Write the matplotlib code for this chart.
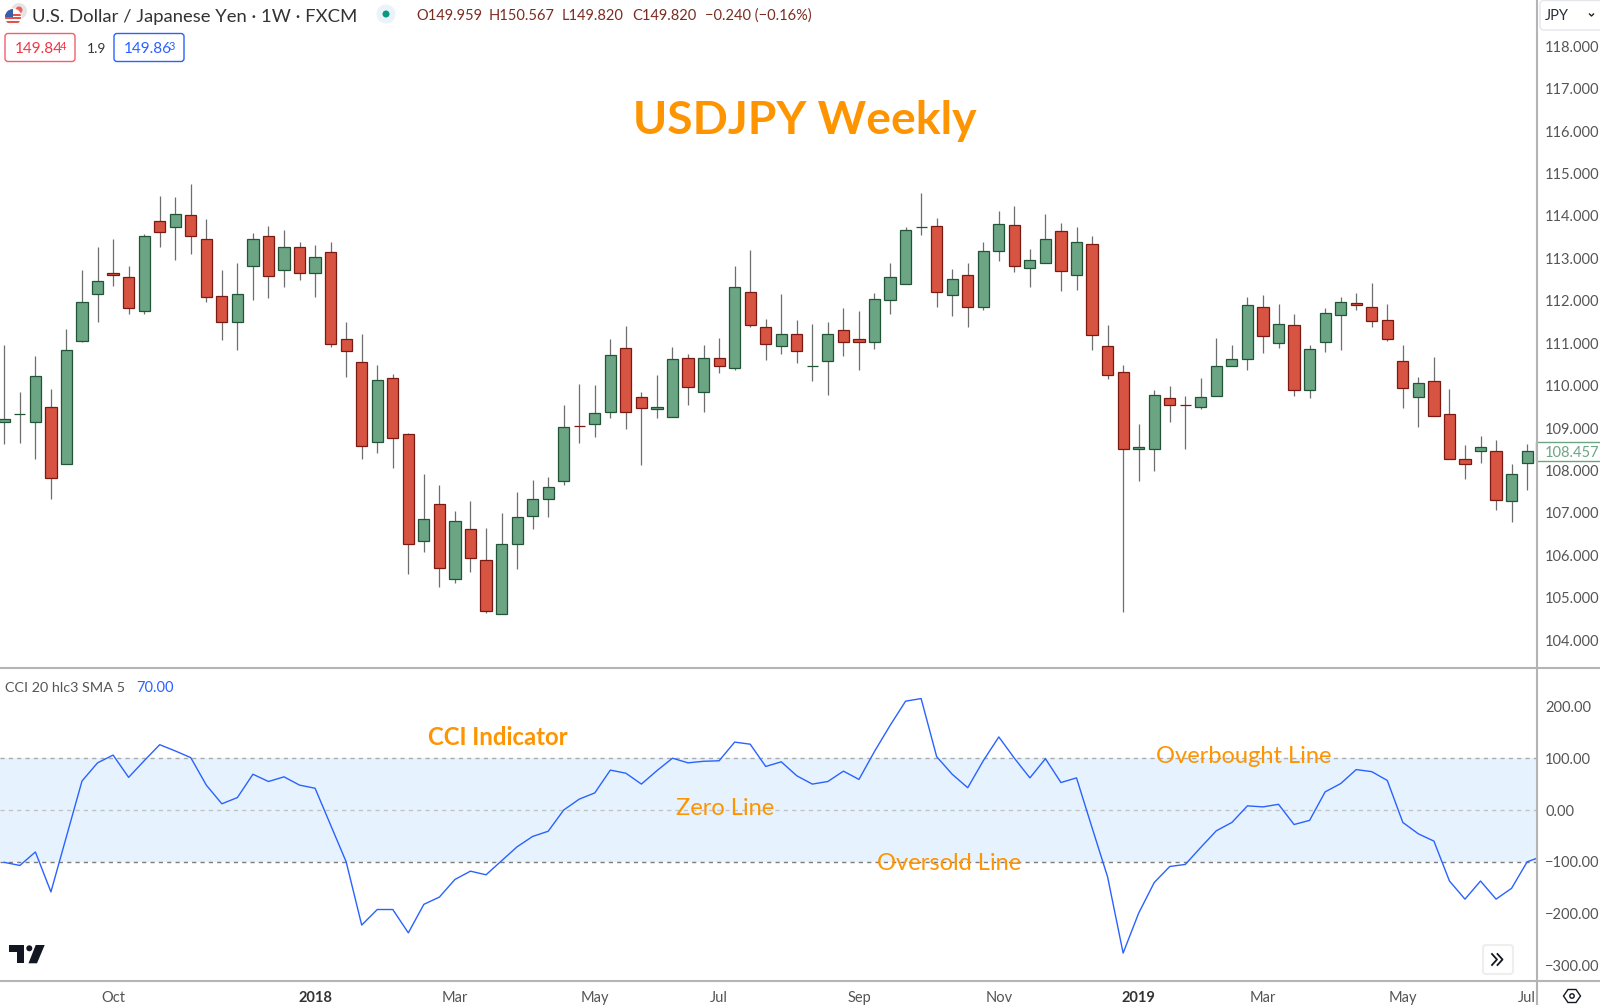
import matplotlib
matplotlib.use('Agg')
import matplotlib.pyplot as plt
from matplotlib.patches import Circle, FancyBboxPatch, Polygon, Rectangle

# weekly candles
opens = [109.14, 109.33, 109.14, 109.49, 108.16, 111.06, 112.15, 112.65, 112.56, 111.75,
         113.87, 113.73, 114.02, 113.45, 112.11, 111.49, 112.81, 113.52, 112.72, 113.27,
         112.65, 113.14, 111.09, 110.55, 108.67, 110.19, 108.86, 106.33, 107.20, 105.44,
         106.62, 105.90, 104.63, 106.26, 106.92, 107.33, 107.76, 109.05, 109.09, 109.39,
         110.88, 109.74, 109.45, 109.27, 110.66, 109.84, 110.66, 110.41, 112.20, 111.38,
         110.93, 111.22, 110.46, 110.59, 111.31, 111.09, 111.04, 112.02, 112.40, 113.73,
         113.76, 112.13, 112.60, 111.86, 113.17, 113.78, 112.78, 112.89, 113.65, 112.60,
         113.34, 110.93, 110.33, 108.50, 108.50, 109.70, 109.55, 109.50, 109.75, 110.46,
         110.64, 111.85, 111.00, 111.44, 109.90, 111.03, 111.66, 111.95, 111.86, 111.55,
         110.59, 109.74, 110.10, 109.34, 108.27, 108.47, 108.47, 107.28, 108.17]
closes = [109.21, 109.34, 110.23, 107.82, 110.83, 111.97, 112.47, 112.60, 111.83, 113.52,
          113.63, 114.05, 113.52, 112.09, 111.51, 112.15, 113.45, 112.58, 113.27, 112.65,
          113.03, 110.99, 110.81, 108.58, 110.14, 108.76, 106.26, 106.86, 105.70, 106.81,
          105.95, 104.70, 106.26, 106.90, 107.32, 107.62, 109.03, 109.04, 109.36, 110.73,
          109.37, 109.48, 109.50, 110.63, 109.96, 110.66, 110.46, 112.33, 111.42, 110.98,
          111.22, 110.81, 110.47, 111.22, 111.04, 111.04, 112.04, 112.56, 113.68, 113.74,
          112.20, 112.51, 111.86, 113.18, 113.80, 112.83, 112.96, 113.45, 112.70, 113.38,
          111.20, 110.26, 108.50, 108.56, 109.77, 109.54, 109.54, 109.73, 110.46, 110.64,
          111.91, 111.16, 111.45, 109.90, 110.86, 111.71, 111.97, 111.91, 111.53, 111.09,
          109.95, 110.06, 109.28, 108.27, 108.16, 108.56, 107.31, 107.91, 108.45]
highs = [110.96, 109.86, 110.69, 109.92, 111.34, 112.73, 113.26, 113.46, 112.83, 113.58,
         114.47, 114.44, 114.75, 113.93, 112.73, 112.88, 113.59, 113.76, 113.66, 113.39,
         113.31, 113.39, 111.49, 111.22, 110.48, 110.28, 108.88, 107.92, 107.67, 107.05,
         107.29, 106.64, 106.99, 107.50, 107.78, 107.85, 109.55, 110.03, 110.02, 111.09,
         111.41, 109.84, 110.26, 110.91, 110.75, 110.95, 111.13, 112.81, 113.19, 111.56,
         112.16, 111.54, 111.45, 111.49, 111.83, 111.76, 112.18, 112.88, 113.73, 114.55,
         113.95, 112.74, 112.90, 113.39, 114.11, 114.24, 113.23, 114.05, 113.83, 113.73,
         113.53, 111.42, 110.49, 109.10, 109.89, 110.00, 109.76, 110.18, 111.13, 110.96,
         112.09, 112.14, 111.92, 111.68, 110.96, 111.83, 112.09, 112.19, 112.41, 111.92,
         110.96, 110.20, 110.68, 109.92, 108.60, 108.82, 108.71, 108.16, 108.63]
lows = [108.62, 108.64, 108.28, 107.33, 108.16, 111.02, 111.50, 112.35, 111.70, 111.68,
        113.26, 112.97, 113.11, 111.97, 111.08, 110.85, 112.02, 112.06, 112.33, 112.48,
        112.08, 110.92, 110.21, 108.28, 108.42, 108.07, 105.57, 106.09, 105.25, 105.36,
        105.60, 104.64, 104.63, 105.68, 106.63, 106.90, 107.66, 108.66, 108.78, 109.23,
        108.97, 108.13, 109.23, 109.27, 109.55, 109.38, 110.29, 110.36, 111.39, 110.61,
        110.74, 110.54, 110.12, 109.78, 110.70, 110.38, 110.87, 111.68, 112.40, 113.54,
        111.86, 111.64, 111.39, 111.79, 112.95, 112.67, 112.33, 112.89, 112.24, 112.26,
        110.83, 110.16, 104.67, 107.76, 108.00, 109.15, 108.51, 109.44, 109.75, 110.46,
        110.36, 110.76, 110.90, 109.76, 109.71, 110.80, 110.84, 111.79, 111.39, 111.06,
        109.48, 109.02, 109.28, 108.27, 107.81, 108.17, 107.06, 106.79, 107.54]

cci = [-101, -107, -81, -158, -51, 56, 91, 106, 63, 95,
       126, 114, 101, 48, 12, 24, 69, 55, 64, 48,
       42, -29, -100, -222, -192, -192, -237, -182, -168, -134,
       -118, -125, -98, -71, -51, -41, 0, 21, 33, 77,
       71, 50, 76, 100, 91, 94, 95, 131, 127, 84,
       93, 66, 50, 55, 75, 59, 113, 163, 210, 215,
       103, 69, 43, 95, 141, 100, 62, 99, 53, 62,
       -34, -129, -276, -199, -140, -109, -105, -72, -40, -24,
       8, 6, 11, -28, -20, 35, 51, 78, 74, 57,
       -24, -46, -60, -137, -172, -137, -172, -151, -100, -89]

price_ticks = [104, 105, 106, 107, 108, 109, 110, 111, 112, 113, 114, 115, 116, 117, 118]
cci_ticks = [-300, -200, -100, 0, 100, 200]
month_pos = [7, 20, 29, 38, 46, 55, 64, 73, 81, 90, 98]
month_labels = ['Oct', '2018', 'Mar', 'May', 'Jul', 'Sep', 'Nov', '2019', 'Mar', 'May', 'Jul']
last_price = 108.457

W, H = 1600, 1005
FONT = 'Lato'
ORANGE = '#FE9400'
GREY = '#555555'
LINE = '#B4B4B4'
UP = '#6BA583'


def px_rect(x0, y0, x1, y1):
    return [x0 / W, 1 - y1 / H, (x1 - x0) / W, (y1 - y0) / H]


def put(x, y, s, size=10.5, color=GREY, ha='left', **kw):
    over.text(x, y, s, fontsize=size, color=color, ha=ha, va='center', family=FONT, **kw)


def rbox(x0, y0, x1, y1, r, fc, ec, lw=1.0):
    over.add_patch(FancyBboxPatch((x0, y0), x1 - x0, y1 - y0, boxstyle='round,pad=0,rounding_size=%g' % r,
                                  fc=fc, ec=ec, lw=lw))


plt.rcParams['font.family'] = FONT
fig = plt.figure(figsize=(W / 100, H / 100), dpi=100, facecolor='white')
ax = fig.add_axes(px_rect(0, 0, 1536, 667))
ax2 = fig.add_axes(px_rect(0, 668, 1536, 980))

# candles
for i in range(len(opens)):
    up = closes[i] >= opens[i]
    body = UP if up else '#D75442'
    edge = '#225437' if up else '#7A1A12'
    ax.vlines(i, lows[i], highs[i], color='#6E6E6E', lw=0.9, zorder=2)
    ax.bar(i, abs(closes[i] - opens[i]), bottom=min(opens[i], closes[i]), width=0.72,
           color=body, edgecolor=edge, linewidth=0.9, zorder=3)

ax.set_xlim(-0.277, 98.57)
ax.set_ylim(103.37, 119.09)
ax.yaxis.tick_right()
ax.set_yticks(price_ticks)
ax.set_yticklabels(['%.3f' % t for t in price_ticks])
ax.tick_params(axis='y', length=0, pad=6.5, labelsize=10.5, labelcolor=GREY)
ax.set_xticks([])
for s in ['top', 'left', 'bottom', 'right']:
    ax.spines[s].set_visible(False)

# last price tag on the scale
tag = ax.get_yaxis_transform()
ax.add_patch(Rectangle((1.0, last_price - 0.235), 0.06, 0.445, transform=tag, fc='white', ec=UP, lw=1,
                       clip_on=False, zorder=5))
ax.text(1.0059, last_price - 0.055, '%.3f' % last_price, transform=tag, color=UP, fontsize=10.5, va='center',
        zorder=6, clip_on=False)

# CCI pane
ax2.axhspan(-100, 100, color='#E6F3FE', lw=0, zorder=0)
ax2.axhline(100, color='#ABABAB', lw=1, dashes=(3, 3), zorder=1)
ax2.axhline(0, color='#C2C2C2', lw=1, dashes=(3, 3), zorder=1)
ax2.axhline(-100, color='#7C7C7C', lw=1, dashes=(3, 3), zorder=1)
ax2.plot(range(len(cci)), cci, color='#2962FF', lw=1, zorder=2)
ax2.set_xlim(-0.277, 98.57)
ax2.set_ylim(-328, 274)
ax2.yaxis.tick_right()
ax2.set_yticks(cci_ticks)
ax2.set_yticklabels([('\u2212%.2f' % -t) if t < 0 else '%.2f' % t for t in cci_ticks])
ax2.tick_params(axis='y', length=0, pad=6.5, labelsize=10.5, labelcolor=GREY)
ax2.set_xticks(month_pos)
ax2.set_xticklabels(month_labels)
ax2.tick_params(axis='x', length=0, pad=8, labelsize=10.5, labelcolor=GREY)
for lab, name in zip(ax2.get_xticklabels(), month_labels):
    if name.isdigit():
        lab.set_fontweight('bold')
        lab.set_color('#333333')
for s in ['top', 'left', 'bottom', 'right']:
    ax2.spines[s].set_visible(False)

# overlay in pixel coordinates for the labels and the platform furniture
over = fig.add_axes([0, 0, 1, 1], facecolor='none', zorder=10)
over.set_xlim(0, W)
over.set_ylim(H, 0)
over.axis('off')

over.plot([0, W], [667.5, 667.5], color=LINE, lw=1.5)
over.plot([0, W], [980.5, 980.5], color=LINE, lw=1.5)
over.plot([1536.5, 1536.5], [0, H], color=LINE, lw=1.5)

# annotations
put(805, 121, 'USDJPY Weekly', size=33.3, color=ORANGE, ha='center', fontweight='bold')
put(498, 737, 'CCI Indicator', size=17.2, color=ORANGE, ha='center', fontweight='bold')
put(725, 808, 'Zero Line', size=17, color=ORANGE, ha='center')
put(1244, 756, 'Overbought Line', size=17, color=ORANGE, ha='center')
put(949, 863, 'Oversold Line', size=17, color=ORANGE, ha='center')

# header
put(32, 17, 'U.S. Dollar / Japanese Yen \u00b7 1W \u00b7 FXCM', size=13.3, color='#333333')
for x, s in [(416, 'O149.959'), (489, 'H150.567'), (562, 'L149.820'), (632, 'C149.820'),
             (705, '\u22120.240 (\u22120.16%)')]:
    put(x, 16, s, size=10.5, color='#7B2D22')
put(87, 49, '1.9', size=10, color='#333333')
put(15, 49, '149.84', size=11, color='#F23645')
put(60, 46, '4', size=8, color='#F23645')
put(124, 49, '149.86', size=11, color='#2962FF')
put(169, 46, '3', size=8, color='#2962FF')
rbox(5, 33.5, 75, 61.5, 3, 'none', '#F0606C')
rbox(114, 33.5, 184, 61.5, 3, 'none', '#2962FF')
put(5, 688, 'CCI 20 hlc3 SMA 5', size=10.4)
put(136, 688, '70.00', size=10.5, color='#2962FF')

# flags
over.add_patch(Circle((19, 11), 8, fc='#E4E4E4', ec='none'))
over.add_patch(Circle((19, 10), 3.5, fc='#F0605A', ec='none'))
us = Circle((13, 17), 8, fc='white', ec='white', lw=0.8)
over.add_patch(us)
for y0, c in [(13.5, '#E8504A'), (17, '#E8504A'), (20.5, '#E8504A')]:
    r = Rectangle((4, y0), 18, 2, fc=c, ec='none')
    over.add_patch(r)
    r.set_clip_path(us)
r = Rectangle((4, 8), 9, 9, fc='#3A5FA8', ec='none')
over.add_patch(r)
r.set_clip_path(us)

# market status dot
over.add_patch(Circle((386, 14), 9.5, fc='#E9F3F8', ec='none'))
over.add_patch(Circle((386, 14), 3.5, fc='#089981', ec='none'))

# currency selector
rbox(1540, 0.5, 1612, 30, 4, 'white', '#E4E6EA')
put(1545, 15.5, 'JPY', size=10.5, color='#2A2E39')
over.plot([1589.5, 1591.5, 1593.5], [14, 16, 14], color='#222222', lw=1)

# TradingView logo
over.add_patch(Polygon([(9.3, 945), (24.3, 945), (24.3, 963.3), (16.7, 963.3), (16.7, 952), (9.3, 952)],
                       fc='#131722', ec='none'))
over.add_patch(Circle((29.3, 948.3), 3, fc='#131722', ec='none'))
over.add_patch(Polygon([(35.7, 945), (44.7, 945), (37, 963.3), (28.5, 963.3)], fc='#131722', ec='none'))

# scroll button
rbox(1483, 945, 1513, 974, 3, 'white', '#EEEEEE', lw=1.5)
over.plot([1492, 1497, 1492], [954, 959.5, 965], color='#131722', lw=1.3)
over.plot([1497.5, 1502.5, 1497.5], [954, 959.5, 965], color='#131722', lw=1.3)

# chart settings icon
over.add_patch(Polygon([(1563.5, 996), (1568, 989.5), (1576, 989.5), (1580.5, 996), (1576, 1002.5), (1568, 1002.5)],
                       fc='none', ec='#131722', lw=1))
over.add_patch(Circle((1572, 996), 2.2, fc='none', ec='#131722', lw=1))

plt.savefig('out.png', dpi=100)
